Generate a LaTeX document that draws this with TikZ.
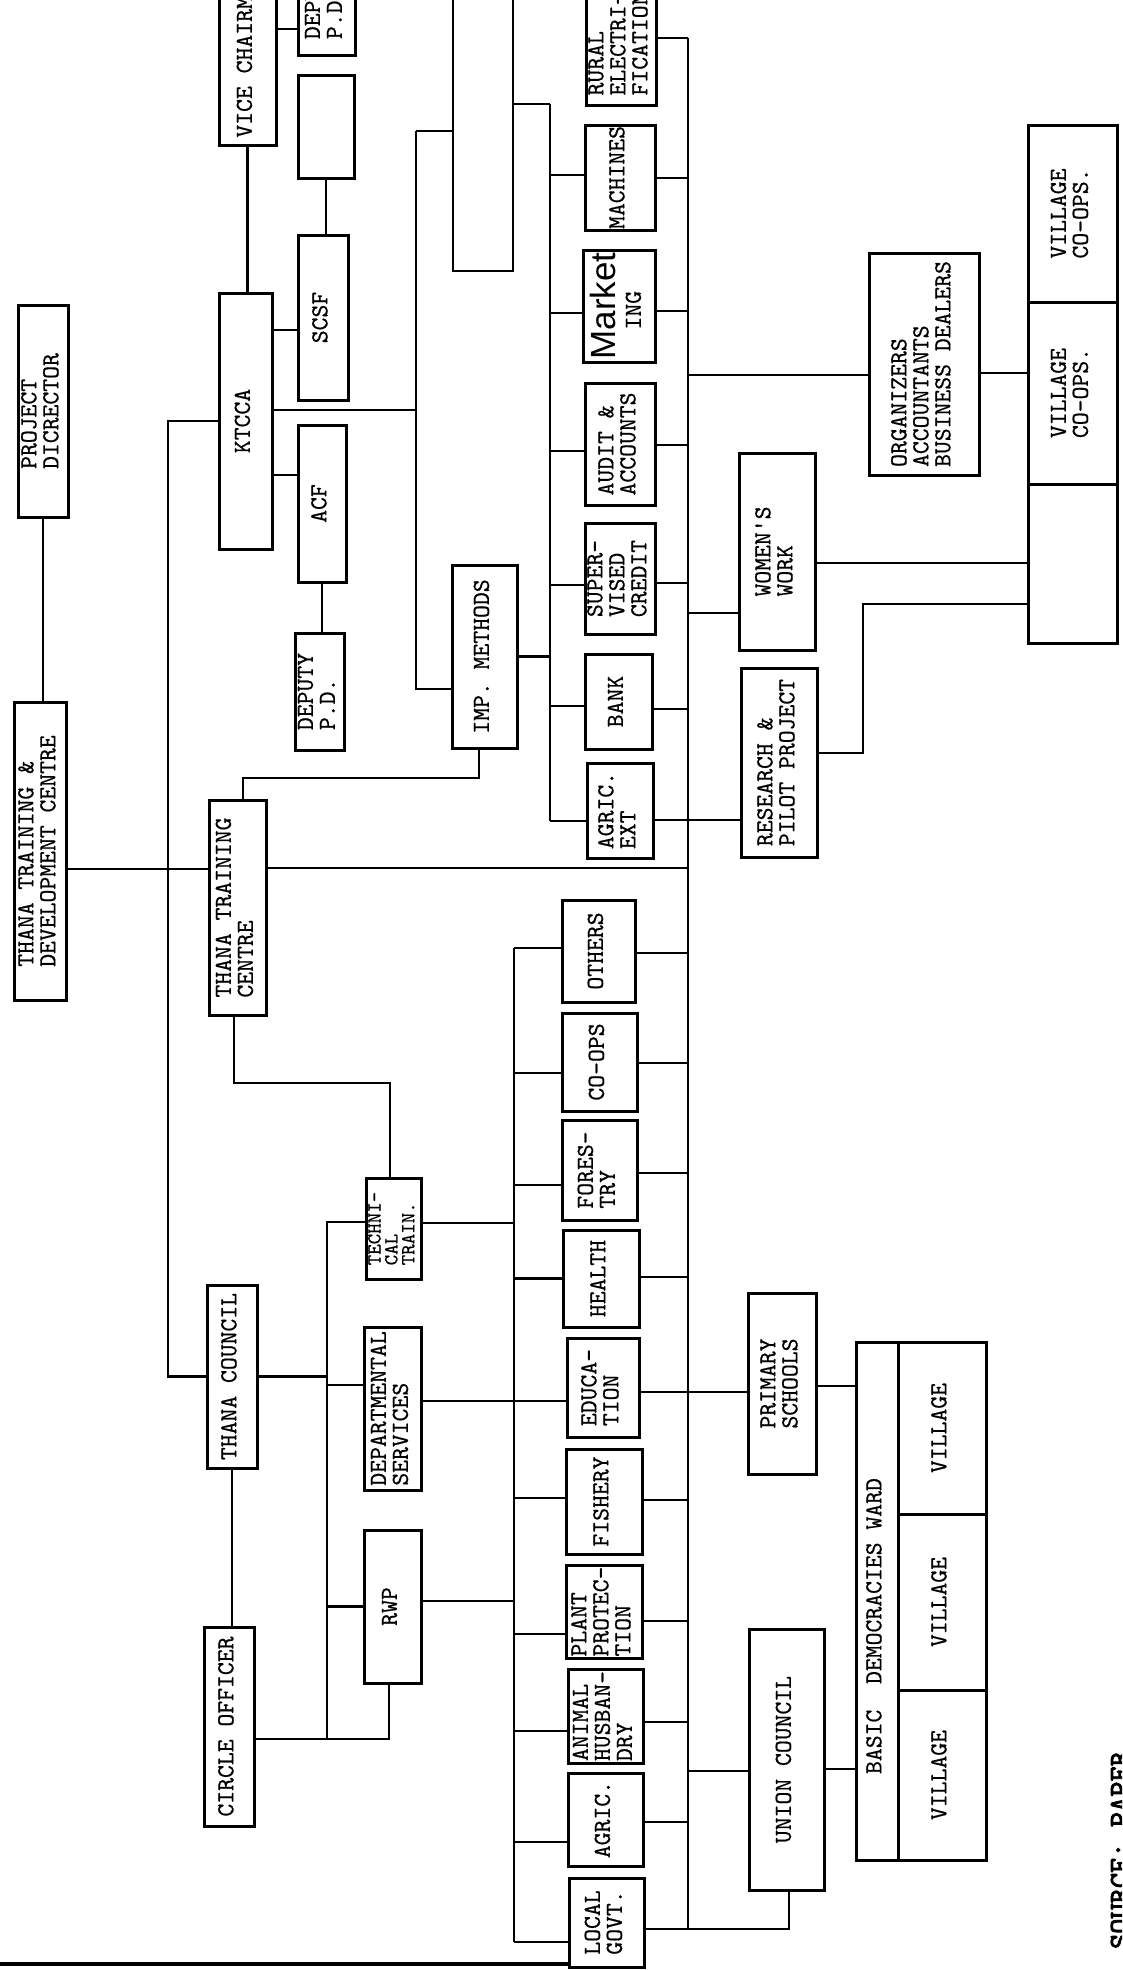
\documentclass[tikz,border=0pt]{standalone}
\usepackage{fontspec}
\setmonofont{lmmono10-regular.otf}[FakeBold=0.6]
\setsansfont{Liberation Sans}
\newfontfamily\heavytt{lmmono10-regular.otf}[FakeBold=3]
\usepackage{graphicx}
\usetikzlibrary{calc}

% rotated, left aligned label (text reads bottom to top)
\newcommand{\vlabel}[1]{\rotatebox{90}{\begin{tabular}{@{}l@{}}#1\end{tabular}}}

\begin{document}
\begin{tikzpicture}[
    x=1pt, y=-1pt,
    font=\ttfamily\fontsize{24.5}{22}\selectfont,
    box/.style={draw, line width=3pt, inner sep=0pt, outer sep=0pt},
    sz/.style 2 args={minimum width=#1pt, minimum height=#2pt},
    ln/.style={line width=2.4pt},
    small/.style={font=\ttfamily\fontsize{20}{15}\selectfont},
]
\useasboundingbox (0,0) rectangle (1122,1970);
\clip (0,0) rectangle (1122,1970);

% ============ left: project director and training centres ============
\node[box, sz={50}{212}] (pd)   at (43,411)     {\vlabel{PROJECT\\DICRECTOR}};
\node[box, sz={52}{298}] (ttdc) at (40,851)     {\vlabel{THANA TRAINING \&\\DEVELOPMENT CENTRE}};
\node[box, sz={57}{215}] (ttc)  at (237.5,907.5) {\vlabel{THANA TRAINING\\CENTRE}};

% ============ KTCCA branch ============
\node[box, sz={57}{182}] (vc)     at (247.5,54)    {\vlabel{VICE CHAIRMAN}};
\node[box, sz={57}{109}] (deptop) at (326.5,0.5)   {\vlabel{DEPUTY\\P.D.}};
\node[box, sz={56}{103}] (blank)  at (326,126.5)   {};
\node[box, sz={50}{165}] (scsf)   at (323,317.5)   {\vlabel{SCSF}};
\node[box, sz={53}{256}] (ktcca)  at (245.5,421)   {\vlabel{KTCCA}};
\node[box, sz={48}{157}] (acf)    at (322,503.5)   {\vlabel{ACF}};
\node[box, sz={49}{117}] (deppd)  at (319.5,691.5) {\vlabel{DEPUTY\\P.D.}};
\node[box, sz={65}{183}] (imp)    at (484.5,656.5) {\vlabel{IMP. METHODS}};

% ============ thana council branch ============
\node[box, sz={55}{101}, small] (tech) at (393.5,1228.5) {\vlabel{TECHNI-\\CAL\\TRAIN.}};
\node[box, sz={50}{183}] (tc)   at (232,1376.5)   {\vlabel{THANA COUNCIL}};
\node[box, sz={57}{163}] (dept) at (392.5,1408.5) {\vlabel{DEPARTMENTAL\\SERVICES}};
\node[box, sz={57}{153}] (rwp)  at (392.5,1606.5) {\vlabel{RWP}};
\node[box, sz={50}{199}] (co)   at (229,1726.5)   {\vlabel{CIRCLE OFFICER}};

% ============ upper right group ============
\node[box, sz={70}{122}] (rural) at (621,44)     {\vlabel{RURAL\\ELECTRI-\\FICATION}};
\node[box, sz={70}{105}] (mach)  at (620,177.5)  {\vlabel{MACHINES}};
\node[box, sz={72}{112}] (mkt)   at (619,306)    {\vlabel{{\sffamily\fontsize{35}{35}\selectfont Market}\\[3pt]\hspace*{30pt}ING}};
\node[box, sz={70}{122}] (audit) at (620,444)    {\vlabel{AUDIT \&\\ACCOUNTS}};
\node[box, sz={70}{111}] (sup)   at (620,578.5)  {\vlabel{SUPER-\\VISED\\CREDIT}};
\node[box, sz={67}{95}]  (bank)  at (618.5,701.5) {\vlabel{BANK}};
\node[box, sz={66}{95}]  (agx)   at (620,810.5)  {\vlabel{AGRIC.\\EXT}};

\node[box, sz={110}{222}] (org)   at (924,364)   {\vlabel{ORGANIZERS\\ACCOUNTANTS\\BUSINESS DEALERS}};
\node[box, sz={76}{197}]  (women) at (777,551.5) {\vlabel{WOMEN'S\\WORK}};
\node[box, sz={76}{189}]  (res)   at (779,762.5) {\vlabel{RESEARCH \&\\PILOT PROJECT}};
\node[box, sz={89}{177}]  (vco1)  at (1072.5,213.5) {\vlabel{VILLAGE\\CO-OPS.}};
\node[box, sz={89}{182}]  (vco2)  at (1072.5,393)   {\vlabel{VILLAGE\\CO-OPS.}};
\node[box, sz={89}{159}]  (vco3)  at (1072.5,563.5) {};

% ============ lower group ============
\node[box, sz={73}{102}] (oth)    at (598.5,951)   {\vlabel{OTHERS}};
\node[box, sz={75}{98}]  (coop)   at (599.5,1062)  {\vlabel{CO-OPS}};
\node[box, sz={75}{100}] (forest) at (599.5,1170)  {\vlabel{FORES-\\TRY}};
\node[box, sz={76}{97}]  (health) at (601,1278.5)  {\vlabel{HEALTH}};
\node[box, sz={72}{99}]  (edu)    at (603,1387.5)  {\vlabel{EDUCA-\\TION}};
\node[box, sz={76}{105}] (fish)   at (604,1501.5)  {\vlabel{FISHERY}};
\node[box, sz={76}{93}]  (plant)  at (604,1611.5)  {\vlabel{PLANT\\PROTEC-\\TION}};
\node[box, sz={75}{94}]  (animal) at (605.5,1716)  {\vlabel{ANIMAL\\HUSBAN-\\DRY}};
\node[box, sz={75}{93}]  (agric)  at (605.5,1819.5) {\vlabel{AGRIC.}};
\node[box, sz={75}{89}]  (lgov)   at (606.5,1922.5) {\vlabel{LOCAL\\GOVT.}};

\node[box, sz={68}{181}] (prim) at (782,1383.5)  {\vlabel{PRIMARY\\SCHOOLS}};
\node[box, sz={75}{261}] (uc)   at (786.5,1759.5) {\vlabel{UNION COUNCIL}};
\node[box, sz={42}{518}] (bdw)  at (877,1601)    {\vlabel{BASIC\ \ DEMOCRACIES WARD\hspace*{50pt}}};
\node[box, sz={88}{172}] (vil1) at (942,1428)    {\vlabel{VILLAGE}};
\node[box, sz={88}{176}] (vil2) at (942,1602)    {\vlabel{VILLAGE}};
\node[box, sz={88}{170}] (vil3) at (942,1775)    {\vlabel{VILLAGE}};

\node[font=\heavytt\fontsize{29}{29}\selectfont] (src) at (1120,1850) {\rotatebox{90}{SOURCE: PAPER}};

% ============ bars and free ends ============
\coordinate (lvx)   at (168,0);
\coordinate (mvT)   at (416,131);
\coordinate (uLT)   at (453,-5);
\coordinate (uRB)   at (513,271);
\coordinate (uRT)   at (513,-5);
\coordinate (lbarT) at (550,104);
\coordinate (lbarB) at (550,821);
\coordinate (rbarT) at (688,38);
\coordinate (rbarB) at (688,1929);
\coordinate (qbarT) at (514,948);
\coordinate (qbarB) at (514,1942);
\coordinate (mvl)   at (327,1739);
\coordinate (jogA)  at (0,778);
\coordinate (jogB)  at (0,1083);
\coordinate (rjog)  at (863,604);
\coordinate (edgeL) at (0,1964);

\draw[ln] (lbarT) -- (lbarB);
\draw[ln] (rbarT) -- (rbarB);
\draw[ln] (qbarT) -- (qbarB);
\draw[ln] (uLT) |- (uRB) -- (uRT);
\draw[ln] (lbarT -| uRT) -- (lbarT);
\draw[line width=3.5pt] (edgeL) -- (edgeL -| lgov.west);

% ============ left column links ============
\draw[ln] (pd.south) -- (pd.south |- ttdc.north);
\draw[ln] ([yshift=-18pt]ttdc.east) -- ([yshift=-18pt]ttdc.east -| ttc.west);
\draw[ln] ([yshift=39.5pt]ttc.east) -- ([yshift=39.5pt]ttc.east -| rbarT);
\draw[ln] ([xshift=-5.5pt]imp.south) |- ([xshift=5.5pt]ttc.north |- jogA) -- ([xshift=5.5pt]ttc.north);
\draw[ln] ([xshift=-3.5pt]ttc.south) |- ([xshift=-3.5pt]tech.north |- jogB) -- ([xshift=-3.5pt]tech.north);

\draw[ln] (vc.south) -- (vc.south |- ktcca.north);
\draw[ln] ([yshift=25pt]vc.east) -- ([yshift=25pt]vc.east -| deptop.west);
\draw[ln] (blank.south) -- (blank.south |- scsf.north);
\draw[ln] ([yshift=91pt]ktcca.east) -- ([yshift=91pt]ktcca.east -| scsf.west);
\draw[ln] ([yshift=-54pt]ktcca.east) -- ([yshift=-54pt]ktcca.east -| acf.west);
\draw[ln] (acf.south) -- (acf.south |- deppd.north);
\draw[ln] ([yshift=11pt]ktcca.east) -| (mvT);
\draw[ln] (mvT) -- (mvT -| uLT);
\draw[ln] (mvT) |- ([yshift=-32.5pt]imp.west);
\draw[ln] (imp.east) -- (imp.east -| lbarT);
\draw[ln] (ktcca.west) -- (ktcca.west -| lvx) |- (tc.west);

% ============ council links ============
\draw[ln] (tc.south) -- (tc.south |- co.north);
\draw[ln] ([yshift=6.5pt]tech.west) -| (mvl);
\draw[ln] (tc.east) -- (tc.east -| mvl);
\draw[ln] ([yshift=23.5pt]dept.west) -- ([yshift=23.5pt]dept.west -| mvl);
\draw[ln] (rwp.west) -- (rwp.west -| mvl);
\draw[ln] ([yshift=-12.5pt]co.east) -- (mvl) -| ([xshift=-3.5pt]rwp.south);
\foreach \nm/\dy in {tech/5.5, dept/7.5, rwp/5.5}
  \draw[ln] ([yshift=\dy]\nm.east) -- ([yshift=\dy]\nm.east -| qbarT);

% ============ upper right links ============
\foreach \nm/\dl/\dr in {mach/2.5/-0.5, mkt/-7/-5, audit/-7/-1, sup/-6.5/-4.5, bank/-4.5/-7.5, agx/-10.5/-9.5} {
  \draw[ln] ([yshift=\dl]\nm.west) -- ([yshift=\dl]\nm.west -| lbarT);
  \draw[ln] ([yshift=\dr]\nm.east) -- ([yshift=\dr]\nm.east -| rbarT);
}
\draw[ln] ([yshift=6pt]rural.east) -- ([yshift=6pt]rural.east -| rbarT);
\draw[ln] ([yshift=-11pt]org.west) -- ([yshift=-11pt]org.west -| rbarT);
\draw[ln] ([yshift=-9pt]org.east) -- ([yshift=-9pt]org.east -| vco2.west);
\draw[ln] ([yshift=-61.5pt]women.west) -- ([yshift=-61.5pt]women.west -| rbarT);
\draw[ln] ([yshift=-11.5pt]women.east) -- ([yshift=-11.5pt]women.east -| vco3.west);
\draw[ln] ([yshift=-9.5pt]agx.east) -- ([yshift=-9.5pt]agx.east -| res.west);
\draw[ln] ([yshift=9.5pt]res.east) -| (rjog) -- (rjog -| vco3.west);

% ============ lower group links ============
\foreach \nm/\dl/\dr in {oth/3/-2, coop/-11/-1, forest/-15/-3, health/0/1.5, edu/-13.5/-4.5, fish/3.5/1.5, plant/-22.5/-9.5, animal/-15/-6, agric/-22.5/-2.5, lgov/-19.5/-6.5} {
  \draw[ln] ([yshift=\dl]\nm.west) -- ([yshift=\dl]\nm.west -| qbarT);
  \draw[ln] ([yshift=\dr]\nm.east) -- ([yshift=\dr]\nm.east -| rbarT);
}
\draw[ln] ([yshift=-4.5pt]edu.east) -- ([yshift=-4.5pt]edu.east -| prim.west);
\draw[ln] ([yshift=-2.5pt]prim.east) -- ([yshift=-2.5pt]prim.east -| bdw.west);
\draw[ln] ([yshift=-11.5pt]uc.west) -- ([yshift=-11.5pt]uc.west -| rbarT);
\draw[ln] ([yshift=-9.5pt]uc.east) -- ([yshift=-9.5pt]uc.east -| bdw.west);
\draw[ln] ([yshift=-6.5pt]lgov.east) -| ([xshift=2.5pt]uc.south);

\end{tikzpicture}
\end{document}
